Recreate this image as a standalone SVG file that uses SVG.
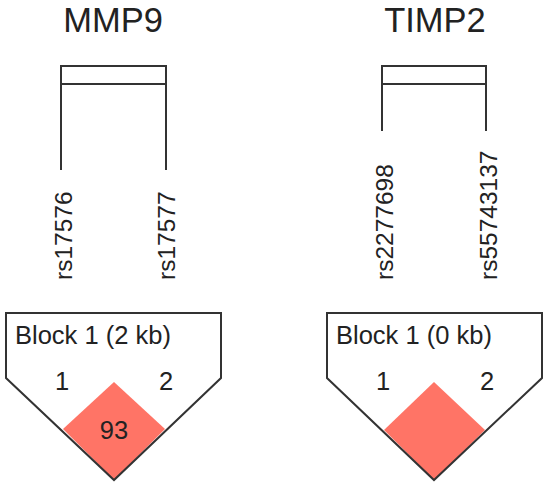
<svg xmlns="http://www.w3.org/2000/svg" width="550" height="491" viewBox="0 0 550 491">
<style>
.t{font-family:"Liberation Sans",Arial,sans-serif;fill:#222}
.title{font-size:34.5px;text-anchor:middle}
.snp{font-size:24.5px}
.lbl{font-size:25.5px}
.ln{fill:none;stroke:#333;stroke-width:2}
.ld{fill:#FF7466;stroke:none}
</style>
<rect width="550" height="491" fill="#fff"/>
<g id="mmp9">
  <text class="t title" x="113" y="32">MMP9</text>
  <g id="mmp9-bracket">
    <rect class="ln" x="61" y="66" width="105" height="18"/>
    <line class="ln" x1="61" y1="84" x2="61" y2="170"/>
    <line class="ln" x1="166" y1="84" x2="166" y2="170"/>
  </g>
  <text class="t snp" transform="translate(72,280) rotate(-90)">rs17576</text>
  <text class="t snp" transform="translate(175,280) rotate(-90)">rs17577</text>
  <g id="mmp9-block">
    <polygon class="ld" points="114,382 165,429 114,480 63,429"/>
    <polygon class="ln" points="6,313 221,313 221,378 114,480 6,378"/>
    <text class="t lbl" x="15" y="344">Block 1 (2 kb)</text>
    <text class="t lbl" x="62" y="390" text-anchor="middle">1</text>
    <text class="t lbl" x="166" y="390" text-anchor="middle">2</text>
    <text class="t lbl" x="114" y="439" text-anchor="middle">93</text>
  </g>
</g>
<g id="timp2">
  <text class="t title" x="435" y="32">TIMP2</text>
  <g id="timp2-bracket">
    <rect class="ln" x="382" y="66" width="104" height="18"/>
    <line class="ln" x1="382" y1="84" x2="382" y2="131"/>
    <line class="ln" x1="486" y1="84" x2="486" y2="131"/>
  </g>
  <text class="t snp" transform="translate(393,280) rotate(-90)">rs2277698</text>
  <text class="t snp" transform="translate(497,280) rotate(-90)">rs55743137</text>
  <g id="timp2-block">
    <polygon class="ld" points="434,382 485,430 434,480 384,430"/>
    <polygon class="ln" points="327,313 542,313 542,378 434,480 327,378"/>
    <text class="t lbl" x="336" y="344">Block 1 (0 kb)</text>
    <text class="t lbl" x="383" y="390" text-anchor="middle">1</text>
    <text class="t lbl" x="487" y="390" text-anchor="middle">2</text>
  </g>
</g>
<g id="connectors"></g>
</svg>
